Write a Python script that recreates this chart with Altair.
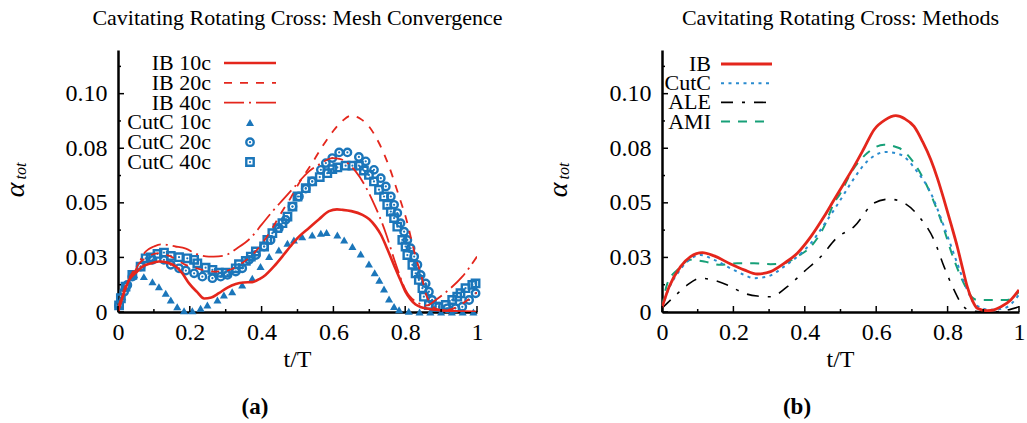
import altair as alt
import pandas as pd

FONT = "Liberation Serif"
RED = "#E4261C"
BLUE = "#1B76BA"
BLUE_DOT = "#2A8BCF"
GREEN = "#17A078"
BLACK = "#000000"

X_TICKS = [0, 0.2, 0.4, 0.6, 0.8, 1.0]
X_MINOR = [0.1, 0.3, 0.5, 0.7, 0.9]
Y_TICKS = [0, 0.025, 0.05, 0.075, 0.1]
Y_TICK_LABELS = ["0", "0.03", "0.05", "0.08", "0.10"]
Y_MINOR = [0.0125, 0.0375, 0.0625, 0.0875, 0.1125]
Y_MAX = 0.12

TITLE_A = "Cavitating Rotating Cross: Mesh Convergence"
TITLE_B = "Cavitating Rotating Cross: Methods"
X_LABEL = "t/T"
Y_LABEL = "α"
Y_SUB = "tot"
TAG_A = "(a)"
TAG_B = "(b)"

# ---------------- panel (a): mesh convergence ----------------
IB_10C = [(0, 0), (0.015, 0.008), (0.031, 0.0147), (0.05, 0.018), (0.068, 0.0208), (0.09, 0.0222),
          (0.114, 0.0231), (0.14, 0.0225), (0.161, 0.0208), (0.18, 0.0175), (0.198, 0.0131),
          (0.22, 0.0092), (0.24, 0.0062), (0.26, 0.0066), (0.281, 0.0086), (0.305, 0.0112),
          (0.328, 0.0128), (0.35, 0.0135), (0.374, 0.0137), (0.395, 0.0152), (0.411, 0.017),
          (0.435, 0.021), (0.458, 0.0255), (0.48, 0.030), (0.504, 0.0345), (0.532, 0.0385),
          (0.56, 0.0425), (0.588, 0.0462), (0.61, 0.047), (0.625, 0.0468), (0.65, 0.0462),
          (0.681, 0.0445), (0.70, 0.0425), (0.718, 0.0391), (0.732, 0.0355), (0.746, 0.0305),
          (0.76, 0.025), (0.773, 0.0198), (0.787, 0.0145), (0.801, 0.0092), (0.815, 0.0058),
          (0.829, 0.0034), (0.845, 0.0022), (0.857, 0.0017), (0.885, 0.001), (0.92, 0.0005),
          (0.96, 0.0002), (1.0, 0.0)]

IB_20C = [(0, 0.002), (0.02, 0.0116), (0.05, 0.0205), (0.08, 0.025), (0.113, 0.027), (0.146, 0.0255),
          (0.19, 0.0215), (0.23, 0.0195), (0.267, 0.0185), (0.304, 0.019), (0.342, 0.022),
          (0.379, 0.027), (0.417, 0.035), (0.457, 0.046), (0.48, 0.052), (0.504, 0.059),
          (0.54, 0.068), (0.57, 0.076), (0.60, 0.083), (0.625, 0.0875), (0.648, 0.0899),
          (0.675, 0.0885), (0.699, 0.085), (0.727, 0.0774), (0.755, 0.0667), (0.783, 0.0529),
          (0.801, 0.0437), (0.829, 0.0254), (0.848, 0.0147), (0.857, 0.0086), (0.87, 0.004),
          (0.885, 0.0015), (0.91, 0.0008), (0.94, 0.002), (0.97, 0.005), (1.0, 0.009)]

IB_40C = [(0, 0), (0.021, 0.0116), (0.045, 0.018), (0.077, 0.0277), (0.10, 0.030), (0.12, 0.031),
          (0.16, 0.030), (0.189, 0.029), (0.22, 0.0265), (0.253, 0.0254), (0.28, 0.0255),
          (0.30, 0.026), (0.33, 0.029), (0.37, 0.034), (0.40, 0.040), (0.43, 0.046), (0.457, 0.051),
          (0.49, 0.057), (0.532, 0.0644), (0.565, 0.068), (0.597, 0.0705), (0.62, 0.070),
          (0.662, 0.0644), (0.708, 0.0514), (0.746, 0.0361), (0.773, 0.0223), (0.801, 0.0101),
          (0.838, 0.004), (0.86, 0.003), (0.885, 0.0055), (0.92, 0.010), (0.959, 0.0162),
          (1.0, 0.0254)]

CUTC_10C = [(0.003, 0.003), (0.012, 0.007), (0.021, 0.0109), (0.045, 0.017), (0.072, 0.0162),
            (0.096, 0.0139), (0.114, 0.0116), (0.133, 0.0086), (0.147, 0.0055), (0.165, 0.0024),
            (0.184, 0.0006), (0.207, 0.0006), (0.230, 0.0017), (0.249, 0.0032), (0.277, 0.0055),
            (0.295, 0.0078), (0.318, 0.0093), (0.346, 0.0124), (0.374, 0.0155), (0.397, 0.0208),
            (0.421, 0.0254), (0.448, 0.0284), (0.472, 0.0315), (0.490, 0.033), (0.513, 0.0345),
            (0.541, 0.0353), (0.565, 0.0361), (0.581, 0.0364), (0.611, 0.0353), (0.630, 0.033),
            (0.653, 0.030), (0.676, 0.0266), (0.699, 0.022), (0.715, 0.018), (0.728, 0.0145),
            (0.741, 0.0105), (0.755, 0.006), (0.769, 0.0025), (0.783, 0.001), (0.81, 0.0003),
            (0.84, 0.0), (0.87, 0.0), (0.90, 0.0), (0.93, 0.0), (0.96, 0.0), (0.99, 0.0)]

CUTC_20C = [(0.003, 0.003), (0.017, 0.0093), (0.026, 0.0124), (0.040, 0.0162), (0.063, 0.0208),
            (0.096, 0.0239), (0.128, 0.0239), (0.147, 0.0216), (0.170, 0.020), (0.189, 0.019),
            (0.212, 0.0177), (0.235, 0.0162), (0.263, 0.0155), (0.286, 0.0162), (0.305, 0.017),
            (0.328, 0.0185), (0.346, 0.020), (0.365, 0.0239), (0.384, 0.0261), (0.407, 0.030),
            (0.425, 0.033), (0.448, 0.0384), (0.467, 0.0422), (0.486, 0.0483), (0.504, 0.0529),
            (0.523, 0.0565), (0.541, 0.0598), (0.565, 0.0651), (0.579, 0.0682), (0.597, 0.0705),
            (0.616, 0.0731), (0.639, 0.0731), (0.671, 0.071), (0.690, 0.069), (0.713, 0.0651),
            (0.732, 0.0613), (0.746, 0.0575), (0.760, 0.0529), (0.769, 0.0491), (0.778, 0.0453),
            (0.787, 0.0407), (0.797, 0.0368), (0.806, 0.033), (0.815, 0.0292), (0.825, 0.0254),
            (0.834, 0.0216), (0.843, 0.017), (0.857, 0.0131), (0.866, 0.0093), (0.875, 0.0055),
            (0.894, 0.0024), (0.917, 0.0017), (0.940, 0.0017), (0.959, 0.0024), (0.978, 0.0055),
            (0.996, 0.0086)]

CUTC_40C = [(0.003, 0.003), (0.008, 0.0063), (0.021, 0.0116), (0.040, 0.017), (0.063, 0.0208),
            (0.077, 0.0246), (0.091, 0.025), (0.110, 0.0266), (0.128, 0.0272), (0.147, 0.0257),
            (0.170, 0.0251), (0.193, 0.0246), (0.212, 0.0239), (0.221, 0.0223), (0.244, 0.0203),
            (0.263, 0.0193), (0.281, 0.018), (0.300, 0.018), (0.328, 0.020), (0.337, 0.0219),
            (0.356, 0.0234), (0.370, 0.0254), (0.384, 0.0277), (0.407, 0.030), (0.416, 0.033),
            (0.430, 0.0361), (0.444, 0.0384), (0.458, 0.0407), (0.472, 0.0437), (0.486, 0.0483),
            (0.500, 0.0529), (0.523, 0.0567), (0.541, 0.0598), (0.562, 0.0618), (0.583, 0.0636),
            (0.597, 0.0654), (0.611, 0.0662), (0.634, 0.067), (0.653, 0.067), (0.671, 0.067),
            (0.685, 0.0648), (0.699, 0.0628), (0.713, 0.0598), (0.727, 0.056), (0.741, 0.0529),
            (0.750, 0.0491), (0.760, 0.046), (0.769, 0.043), (0.778, 0.0391), (0.792, 0.033),
            (0.801, 0.030), (0.806, 0.0261), (0.820, 0.0216), (0.829, 0.0177), (0.838, 0.0147),
            (0.848, 0.0109), (0.852, 0.007), (0.866, 0.0032), (0.885, 0.0024), (0.913, 0.0032),
            (0.931, 0.0055), (0.945, 0.007), (0.954, 0.0086), (0.968, 0.0109), (0.987, 0.0124),
            (0.996, 0.0131)]

# ---------------- panel (b): methods ----------------
IB = [(0, 0.002), (0.02, 0.0116), (0.052, 0.0208), (0.08, 0.0254), (0.113, 0.0272), (0.146, 0.0257),
      (0.192, 0.022), (0.23, 0.0193), (0.267, 0.0174), (0.304, 0.0185), (0.342, 0.0223),
      (0.379, 0.0269), (0.417, 0.0345), (0.454, 0.0437), (0.482, 0.0514), (0.51, 0.059),
      (0.538, 0.0667), (0.566, 0.075), (0.594, 0.0835), (0.625, 0.088), (0.655, 0.0899),
      (0.68, 0.0885), (0.706, 0.085), (0.73, 0.078), (0.753, 0.0697), (0.772, 0.061),
      (0.79, 0.0514), (0.81, 0.040), (0.827, 0.030), (0.842, 0.020), (0.855, 0.0116),
      (0.87, 0.005), (0.883, 0.0017), (0.911, 0.0006), (0.93, 0.001), (0.949, 0.0024),
      (0.977, 0.0055), (1.0, 0.0101)]

CUTC = [(0, 0.002), (0.02, 0.011), (0.045, 0.018), (0.071, 0.0231), (0.108, 0.0261), (0.146, 0.0239),
        (0.192, 0.020), (0.23, 0.017), (0.258, 0.0155), (0.295, 0.0162), (0.342, 0.0208),
        (0.379, 0.0254), (0.417, 0.0315), (0.454, 0.040), (0.482, 0.0468), (0.50, 0.0514),
        (0.529, 0.059), (0.575, 0.069), (0.627, 0.0733), (0.669, 0.072), (0.711, 0.0651),
        (0.753, 0.0544), (0.79, 0.0391), (0.827, 0.0223), (0.855, 0.0101), (0.879, 0.0032),
        (0.921, 0.001), (0.958, 0.0017), (0.98, 0.004), (1.0, 0.008)]

ALE = [(0, 0.0017), (0.034, 0.007), (0.071, 0.0124), (0.108, 0.0155), (0.141, 0.0147), (0.183, 0.0124),
       (0.23, 0.0086), (0.267, 0.0073), (0.304, 0.007), (0.351, 0.0116), (0.398, 0.0185),
       (0.445, 0.0254), (0.49, 0.034), (0.538, 0.0391), (0.594, 0.0499), (0.636, 0.0517),
       (0.678, 0.0499), (0.72, 0.0437), (0.762, 0.033), (0.79, 0.0208), (0.818, 0.0101),
       (0.841, 0.0032), (0.865, 0.0006), (0.92, 0.0), (0.96, 0.0006), (1.0, 0.0024)]

AMI = [(0, 0.002), (0.015, 0.0131), (0.043, 0.0193), (0.08, 0.0239), (0.118, 0.0231), (0.164, 0.0216),
       (0.211, 0.0223), (0.258, 0.0223), (0.304, 0.0219), (0.342, 0.0223), (0.379, 0.0254),
       (0.417, 0.030), (0.454, 0.0391), (0.482, 0.0499), (0.50, 0.0544), (0.529, 0.0636),
       (0.575, 0.0728), (0.622, 0.0766), (0.664, 0.0751), (0.706, 0.0682), (0.743, 0.0575),
       (0.781, 0.0422), (0.818, 0.0239), (0.855, 0.0101), (0.87, 0.0065), (0.883, 0.0055),
       (0.93, 0.0055), (0.967, 0.0055), (1.0, 0.0093)]

# ---------------- layout ----------------
W_A, W_B, H = 359, 357, 262
XS = alt.Scale(domain=[0, 1], nice=False, zero=False)
YS = alt.Scale(domain=[0, Y_MAX], nice=False, zero=False)


def label_expr():
    expr = "'" + Y_TICK_LABELS[-1] + "'"
    for i in range(len(Y_TICKS) - 2, -1, -1):
        thr = (Y_TICKS[i] + Y_TICKS[i + 1]) / 2
        expr = f"datum.value < {thr} ? '{Y_TICK_LABELS[i]}' : ({expr})"
    return expr


AXIS_COMMON = dict(title=None, ticks=False, grid=False, domainColor="black", domainWidth=2.5,
                   labelFont=FONT, labelFontSize=24, labelColor="black", labelOverlap=False)
XAX = alt.Axis(values=X_TICKS, format="~g", labelFlush=False, labelPadding=8, **AXIS_COMMON)
YAX = alt.Axis(values=Y_TICKS, labelExpr=label_expr(), labelPadding=11, **AXIS_COMMON)

MARKER_SIZE = 55


def df(pairs):
    return pd.DataFrame(pairs, columns=["t", "v"])


def xy():
    return dict(x=alt.X("t:Q", scale=XS, axis=XAX), y=alt.Y("v:Q", scale=YS, axis=YAX))


def text_layer(s, x, y, size, **kw):
    return alt.Chart(pd.DataFrame({"s": [s]})).mark_text(
        font=FONT, fontSize=size, color="black", **kw
    ).encode(text="s:N", x=alt.value(x), y=alt.value(y))


def tick_layers(width):
    out = []
    for vals, ln in ((Y_TICKS, 6), (Y_MINOR, 3)):
        out.append(alt.Chart(pd.DataFrame({"v": vals})).mark_rule(color="black", strokeWidth=1.5).encode(
            y=alt.Y("v:Q", scale=YS, axis=YAX), x=alt.value(0), x2=alt.value(ln)))
    for vals, ln in ((X_TICKS, 6), (X_MINOR, 3)):
        out.append(alt.Chart(pd.DataFrame({"t": vals})).mark_rule(color="black", strokeWidth=1.5).encode(
            x=alt.X("t:Q", scale=XS, axis=XAX), y=alt.value(H), y2=alt.value(H - ln)))
    return out


def line_layer(pairs, color, dash, width):
    kw = dict(color=color, strokeWidth=width, interpolate="monotone", clip=True)
    if dash:
        kw["strokeDash"] = dash
    return alt.Chart(df(pairs)).mark_line(**kw).encode(**xy())


def marker_layers(pairs, shape):
    if shape == "triangle-up":
        return [alt.Chart(df(pairs)).mark_point(shape="triangle-up", filled=True, color=BLUE,
                                                size=MARKER_SIZE + 10, opacity=1).encode(**xy())]
    return [
        alt.Chart(df(pairs)).mark_point(shape=shape, filled=False, color=BLUE, size=MARKER_SIZE,
                                        strokeWidth=2.4, opacity=1).encode(**xy()),
        alt.Chart(df(pairs)).mark_point(shape="circle", filled=True, color=BLUE, size=5,
                                        opacity=1).encode(**xy()),
    ]


def legend_line(label, color, dash, width, y, tx, x0, x1):
    kw = dict(color=color, strokeWidth=width)
    if dash:
        kw["strokeDash"] = dash
    rule = alt.Chart(pd.DataFrame({"s": [label]})).mark_rule(**kw).encode(
        x=alt.value(x0), x2=alt.value(x1), y=alt.value(y))
    return [text_layer(label, tx, y, 22, align="right", baseline="middle"), rule]


def legend_marker(label, shape, y, tx, mx):
    one = pd.DataFrame({"s": [label]})
    if shape == "triangle-up":
        pts = [alt.Chart(one).mark_point(shape=shape, filled=True, color=BLUE, size=MARKER_SIZE + 10,
                                         opacity=1).encode(x=alt.value(mx), y=alt.value(y))]
    else:
        pts = [alt.Chart(one).mark_point(shape=shape, filled=False, color=BLUE, size=MARKER_SIZE,
                                         strokeWidth=2.4, opacity=1).encode(x=alt.value(mx), y=alt.value(y)),
               alt.Chart(one).mark_point(shape="circle", filled=True, color=BLUE, size=5,
                                         opacity=1).encode(x=alt.value(mx), y=alt.value(y))]
    return [text_layer(label, tx, y, 22, align="right", baseline="middle")] + pts


def decorations(width, title, tag, alpha_x, tag_x):
    return [
        text_layer(title, width / 2, -32, 22, align="center", baseline="middle"),
        text_layer(Y_LABEL, alpha_x, 140, 28, angle=270, align="center", baseline="middle", fontStyle="italic"),
        text_layer(Y_SUB, alpha_x + 5, 121, 16, angle=270, align="center", baseline="middle", fontStyle="italic"),
        text_layer(X_LABEL, width / 2, 310, 24, align="center", baseline="middle"),
        text_layer(tag, tag_x, 357, 23, align="center", baseline="middle", fontWeight="bold"),
    ]


# panel (a)
lines_a = [("IB 10c", IB_10C, RED, None, 2.6), ("IB 20c", IB_20C, RED, [8, 8], 1.8),
           ("IB 40c", IB_40C, RED, [20, 5, 2, 5], 1.8)]
markers_a = [("CutC 10c", CUTC_10C, "triangle-up"), ("CutC 20c", CUTC_20C, "circle"),
             ("CutC 40c", CUTC_40C, "square")]
layers_a = []
for _, pairs, shape in markers_a:
    layers_a += marker_layers(pairs, shape)
for _, pairs, color, dash, w in lines_a:
    layers_a.append(line_layer(pairs, color, dash, w))
layers_a += tick_layers(W_A)
row = 0
for label, _, color, dash, w in lines_a:
    layers_a += legend_line(label, color, dash, w, 13 + 19.8 * row, 93, 106, 158)
    row += 1
for label, _, shape in markers_a:
    layers_a += legend_marker(label, shape, 13 + 19.8 * row, 93, 132)
    row += 1
layers_a += decorations(W_A, TITLE_A, TAG_A, -102, 137)
panel_a = alt.layer(*layers_a).properties(width=W_A, height=H)

# panel (b)
lines_b = [("IB", IB, RED, None, 2.8), ("CutC", CUTC, BLUE_DOT, [3, 4.5], 2.0),
           ("ALE", ALE, BLACK, [12, 9, 3, 9], 1.6), ("AMI", AMI, GREEN, [9, 8], 2.0)]
layers_b = []
for _, pairs, color, dash, w in reversed(lines_b):
    layers_b.append(line_layer(pairs, color, dash, w))
layers_b += tick_layers(W_B)
for i, (label, _, color, dash, w) in enumerate(lines_b):
    layers_b += legend_line(label, color, dash, w, 14 + 19.2 * i, 49, 59, 110)
layers_b += decorations(W_B, TITLE_B, TAG_B, -103, 135)
panel_b = alt.layer(*layers_b).properties(width=W_B, height=H)

chart = alt.hconcat(panel_a, panel_b, spacing=42).properties(
    padding={"left": 2, "top": 7, "right": 0, "bottom": 0}
).configure_view(stroke=None).configure_concat(spacing=42)

chart.save("out.html", embed_options={"renderer": "svg", "actions": False})
